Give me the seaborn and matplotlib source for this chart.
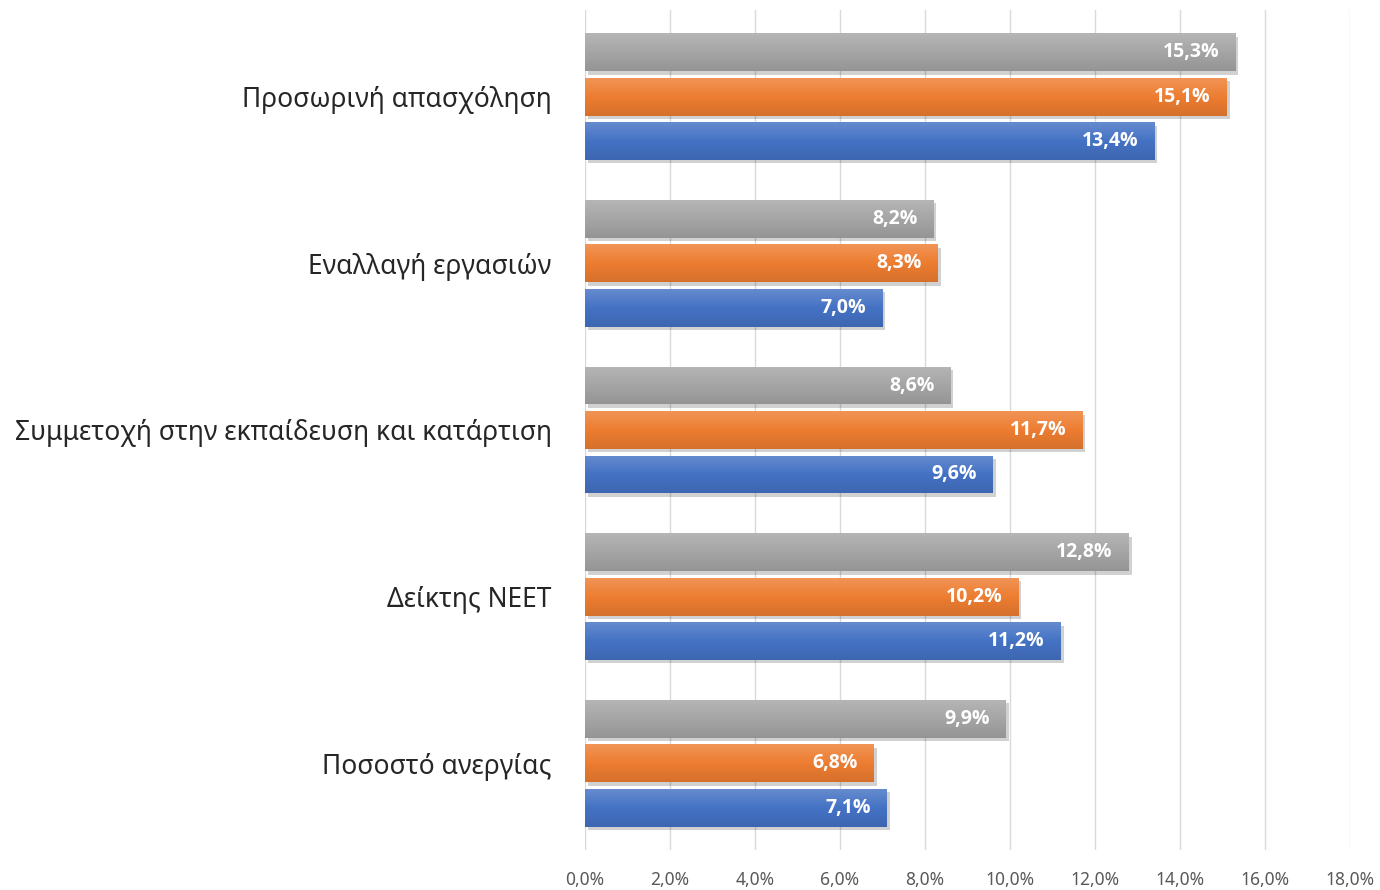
import numpy as np
import pandas as pd
import matplotlib
matplotlib.use("Agg")
import matplotlib.pyplot as plt
import matplotlib.patheffects as pe
from matplotlib.colors import LinearSegmentedColormap, to_rgb
import seaborn as sns

# Indicators (top to bottom) and the three series shown for each one
categories = [
    "Προσωρινή απασχόληση",
    "Εναλλαγή εργασιών",
    "Συμμετοχή στην εκπαίδευση και κατάρτιση",
    "Δείκτης NEET",
    "Ποσοστό ανεργίας",
]
series_names = ["Σειρά 3", "Σειρά 2", "Σειρά 1"]
values_gray = [15.3, 8.2, 8.6, 12.8, 9.9]
values_orange = [15.1, 8.3, 11.7, 10.2, 6.8]
values_blue = [13.4, 7.0, 9.6, 11.2, 7.1]
x_ticks = [0, 2, 4, 6, 8, 10, 12, 14, 16, 18]

colors = ["#A5A5A5", "#ED7D31", "#4472C4"]

df = pd.DataFrame({
    "category": categories * 3,
    "series": [series_names[0]] * 5 + [series_names[1]] * 5 + [series_names[2]] * 5,
    "value": values_gray + values_orange + values_blue,
})

sns.set_theme(style="white")
plt.rcParams["font.family"] = ["Noto Sans", "DejaVu Sans"]

fig = plt.figure(figsize=(13.8, 8.9), dpi=100)
ax = fig.add_axes([585 / 1380, 1 - 850 / 890, (1350 - 585) / 1380, 840 / 890])

sns.barplot(
    data=df, y="category", x="value", hue="series",
    hue_order=series_names, order=categories,
    palette=colors, orient="h", width=0.8, gap=0.15,
    legend=False, ax=ax, saturation=1,
)

ax.set_xlim(0, 18)
ax.set_ylim(4.52, -0.52)

# Shade each bar with a soft vertical gradient and a drop shadow
shadow = [pe.SimplePatchShadow(offset=(2, -2.5), shadow_rgbFace="#000000", alpha=0.18),
          pe.Normal()]
for patch in list(ax.patches):
    x0, y0 = patch.get_x(), patch.get_y()
    w, h = patch.get_width(), patch.get_height()
    if w <= 0:
        continue
    base = np.array(to_rgb(patch.get_facecolor()))
    light = np.clip(base + (1 - base) * 0.18, 0, 1)
    dark = base * 0.90
    cmap = LinearSegmentedColormap.from_list("g", [light, base, dark])
    patch.set_path_effects(shadow)
    patch.set_edgecolor("none")
    grad = np.linspace(0, 1, 64).reshape(-1, 1)
    im = ax.imshow(grad, extent=[x0, x0 + w, y0 + h, y0], aspect="auto",
                   cmap=cmap, zorder=patch.get_zorder() + 0.1, interpolation="bicubic")
    im.set_clip_path(patch)

ax.set_xlim(0, 18)
ax.set_ylim(4.52, -0.52)

# Value labels inside the bar ends
for container in ax.containers:
    for bar in container:
        v = bar.get_width()
        yc = bar.get_y() + bar.get_height() / 2
        ax.text(v - 0.38, yc, f"{v:.1f}".replace(".", ",") + "%",
                ha="right", va="center", color="white", fontsize=14,
                fontweight="bold", family=["Open Sans", "DejaVu Sans"], zorder=5)

ax.set_xticks(x_ticks)
ax.set_xticklabels([f"{t:.1f}".replace(".", ",") + "%" for t in x_ticks])
ax.xaxis.grid(True, color="#D9D9D9", linewidth=1)
ax.yaxis.grid(False)
ax.set_axisbelow(True)
for s in ax.spines.values():
    s.set_visible(False)
ax.tick_params(axis="x", length=0, pad=15, labelsize=12.5, labelcolor="#595959")
ax.tick_params(axis="y", length=0, pad=24, labelsize=19, labelcolor="#262626")
ax.set_xlabel("")
ax.set_ylabel("")

fig.savefig("out.png", dpi=100)
